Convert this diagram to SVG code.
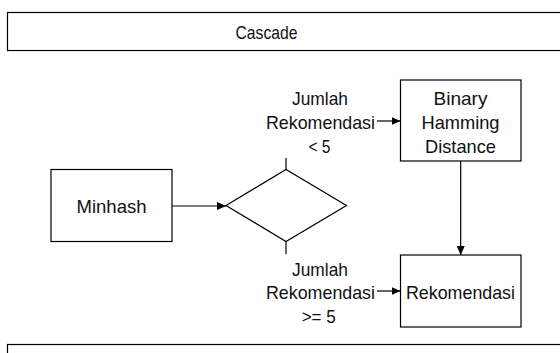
<svg xmlns="http://www.w3.org/2000/svg" width="560" height="353" viewBox="0 0 560 353">
<style>
.box{fill:#fff;stroke:#000;stroke-width:1.2}
.ln{fill:none;stroke:#000;stroke-width:1.2}
text{font-family:"Liberation Sans",Arial,sans-serif;font-size:18.5px;fill:#111;text-anchor:middle}
</style>
<defs>
<marker id="ah" markerWidth="10" markerHeight="8" refX="9" refY="4" orient="auto" markerUnits="userSpaceOnUse">
<path d="M0,0 L9,4 L0,8 Z" fill="#000"/>
</marker>
</defs>
<g id="cascade">
<rect class="box" x="7.5" y="12.5" width="560" height="38"/>
<text x="266.5" y="39" textLength="62" lengthAdjust="spacingAndGlyphs">Cascade</text>
</g>
<g id="bottom-frame">
<rect class="box" x="7.5" y="344.5" width="560" height="30"/>
</g>
<g id="minhash">
<rect class="box" x="51" y="169.5" width="121" height="72"/>
<text x="111.5" y="212.5" textLength="70" lengthAdjust="spacingAndGlyphs">Minhash</text>
</g>
<g id="decision">
<polygon class="box" points="226,205.5 286,169.5 346.5,205.5 286,241.5"/>
</g>
<g id="binary">
<rect class="box" x="400.5" y="80" width="120.5" height="81"/>
<text x="460.5" y="105" textLength="54" lengthAdjust="spacingAndGlyphs">Binary</text>
<text x="460.5" y="129" textLength="78" lengthAdjust="spacingAndGlyphs">Hamming</text>
<text x="460.5" y="153" textLength="71" lengthAdjust="spacingAndGlyphs">Distance</text>
</g>
<g id="rekomendasi">
<rect class="box" x="400.5" y="255" width="120.5" height="72"/>
<text x="460.5" y="298.5" textLength="109" lengthAdjust="spacingAndGlyphs">Rekomendasi</text>
</g>
<g id="label-lt5">
<text x="320" y="105" textLength="56" lengthAdjust="spacingAndGlyphs">Jumlah</text>
<text x="320.5" y="129" textLength="109" lengthAdjust="spacingAndGlyphs">Rekomendasi</text>
<text x="319.5" y="153" textLength="22" lengthAdjust="spacingAndGlyphs">&lt; 5</text>
</g>
<g id="label-ge5">
<text x="320" y="275.5" textLength="56" lengthAdjust="spacingAndGlyphs">Jumlah</text>
<text x="320.5" y="298.5" textLength="109" lengthAdjust="spacingAndGlyphs">Rekomendasi</text>
<text x="318.7" y="323" textLength="34" lengthAdjust="spacingAndGlyphs">&gt;= 5</text>
</g>
<g id="connectors">
<line class="ln" x1="172" y1="206" x2="226" y2="206" marker-end="url(#ah)"/>
<line class="ln" x1="286" y1="158" x2="286" y2="169.5"/>
<line class="ln" x1="286" y1="241.5" x2="286" y2="254"/>
<line class="ln" x1="377" y1="121" x2="400.5" y2="121" marker-end="url(#ah)"/>
<line class="ln" x1="377" y1="291" x2="400.5" y2="291" marker-end="url(#ah)"/>
<line class="ln" x1="460.7" y1="161" x2="460.7" y2="255" marker-end="url(#ah)"/>
</g>
</svg>
